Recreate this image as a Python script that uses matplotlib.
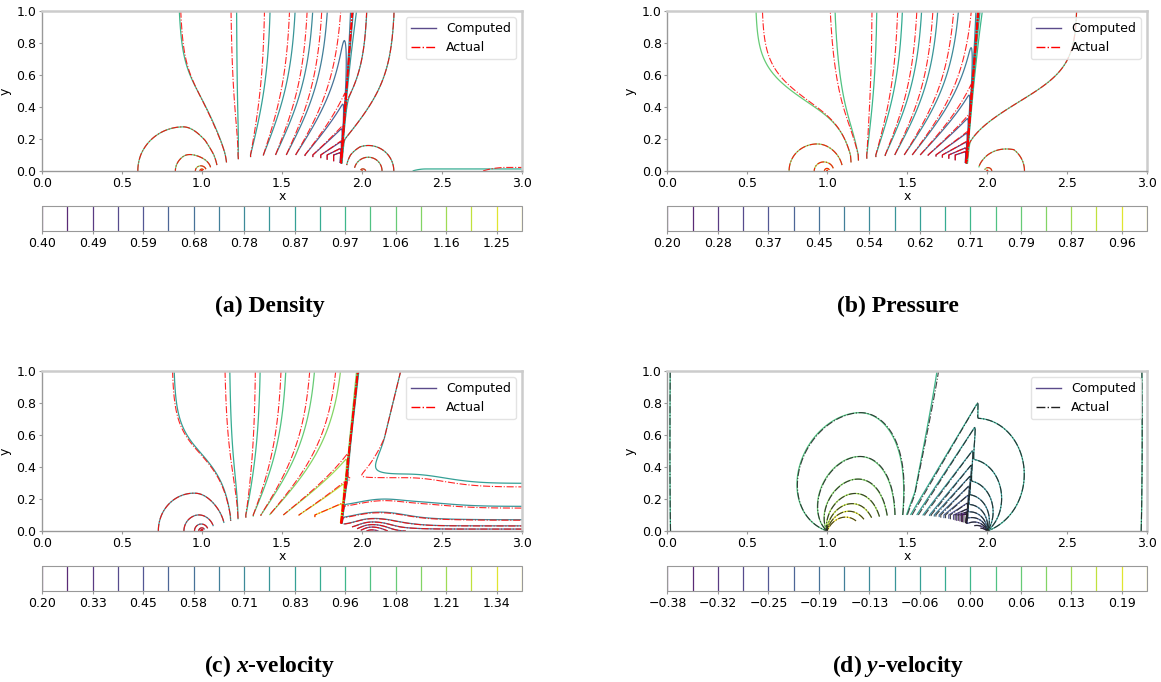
import numpy as np
import matplotlib
matplotlib.use("Agg")
import matplotlib.pyplot as plt
from matplotlib.lines import Line2D
from matplotlib.ticker import FuncFormatter

plt.rcParams['font.family'] = 'DejaVu Sans'
plt.rcParams['mathtext.fontset'] = 'custom'
plt.rcParams['mathtext.rm'] = 'Liberation Serif:bold'
plt.rcParams['mathtext.it'] = 'Liberation Serif:italic:bold'

# contour levels
density_levels = np.linspace(0.40, 1.30, 20)
pressure_levels = np.linspace(0.20, 1.00, 20)
xvel_levels = np.linspace(0.20, 1.40, 20)
yvel_levels = np.linspace(-0.379, 0.222, 20)

captions = ['(a) Density', '(b) Pressure', r'(c) $x$-velocity', r'(d) $y$-velocity']

# channel with circular-arc bump between x=1 and x=2
bump_start, bump_end, bump_height = 1.0, 2.0, 0.1
shock_foot = 1.865
shock_tilt = [0.075, 0.08, 0.11, 0.10]

# isoline positions: value, x at y=0.1, x at y=1, bend
rho_pre_vals = [0.985, 0.968, 0.921, 0.874, 0.826, 0.779, 0.732, 0.684, 0.637, 0.589, 0.542, 0.495, 0.447, 0.420]
rho_pre_xb = [0.30, 1.05, 1.19, 1.28, 1.37, 1.45, 1.52, 1.58, 1.64, 1.69, 1.74, 1.78, 1.82, 1.86]
rho_pre_xt = [0.20, 0.85, 1.21, 1.42, 1.58, 1.69, 1.78, 1.90, 2.05, 2.25, 2.50, 2.80, 3.20, 3.60]
rho_pre_bend = [0.2, 0.2] + [0.0] * 12
rho_post_vals = [0.85, 0.874, 0.921, 0.945]
rho_post_xb = [1.50, 1.70, 1.84, 1.95]
rho_post_xt = [1.95, 2.03, 2.20, 2.40]

p_pre_vals = [0.810, 0.789, 0.747, 0.705, 0.663, 0.621, 0.579, 0.537, 0.495, 0.453, 0.411, 0.368, 0.326, 0.284, 0.242, 0.215]
p_pre_xb = [0.30, 1.12, 1.18, 1.24, 1.30, 1.36, 1.42, 1.48, 1.53, 1.58, 1.63, 1.68, 1.72, 1.76, 1.80, 1.85]
p_pre_xt = [0.10, 0.56, 1.05, 1.31, 1.47, 1.59, 1.69, 1.82, 1.93, 2.05, 2.20, 2.40, 2.65, 2.95, 3.30, 3.70]
p_pre_bend = [0.38, 0.38] + [0.0] * 14
p_post_vals = [0.72, 0.747, 0.772]
p_post_xb = [1.70, 1.90, 2.15]
p_post_xt = [1.90, 2.55, 3.30]

u_pre_vals = [0.800, 0.832, 0.895, 0.958, 1.021, 1.084, 1.147, 1.211, 1.274, 1.337, 1.390]
u_pre_xb = [0.30, 1.14, 1.20, 1.26, 1.31, 1.36, 1.41, 1.50, 1.60, 1.70, 1.80]
u_pre_xt = [0.10, 0.82, 1.17, 1.36, 1.52, 1.70, 1.86, 2.15, 2.35, 2.90, 3.40]
u_pre_bend = [0.38, 0.38] + [0.0] * 9
u_post_top = 0.87

# y-velocity: straight isolines from the bump to the shock (x at y=0.1, where they meet the shock)
v_pre_vals = [0.0, -0.031, -0.063, -0.095, -0.126, -0.158, -0.189, -0.221, -0.252, -0.284, -0.316, -0.347, -0.390]
v_pre_xb = [1.47, 1.52, 1.56, 1.60, 1.64, 1.67, 1.70, 1.73, 1.76, 1.79, 1.81, 1.83, 1.85]
v_pre_yend = [1.00, 0.81, 0.66, 0.51, 0.42, 0.35, 0.29, 0.23, 0.18, 0.14, 0.12, 0.11, 0.105]

nx, ny = 901, 301
xs = np.linspace(0, 3, nx)
ys = np.linspace(0, 1, ny)
X, Y = np.meshgrid(xs, ys)

R = ((bump_end - bump_start) ** 2 / 4 + bump_height ** 2) / (2 * bump_height)
mid = 0.5 * (bump_start + bump_end)
h = np.sqrt(np.clip(R ** 2 - (X - mid) ** 2, 0, None)) - (R - bump_height)
solid = (X > bump_start) & (X < bump_end) & (Y < h)


def smooth(x, a, b):
    t = np.clip((x - a) / (b - a), 0, 1)
    return t * t * (3 - 2 * t)


def profile(y, c, s):
    t = np.clip((y - 0.1) / 0.9, 0, 1)
    L = lambda z: 1 / (1 + np.exp(-(z - c) / s))
    w = (L(t) - L(0)) / (L(1) - L(0))
    return np.where(c < 0, t, w)


def sweep(vals, xb, xt, bend, dx=0.0, dx_s=0.0):
    vals, xb = np.asarray(vals), np.asarray(xb)
    c = np.asarray(bend, dtype=float)
    xt = np.asarray(xt) + np.where(c > 0.01, dx_s, dx)
    s = np.where(c > 0.01, 0.12 + 0.4 * (0.38 - c), 0.3)
    out = np.empty((ny, nx))
    for j, yj in enumerate(ys):
        xq = xb + (xt - xb) * profile(yj, c, s)
        o = np.argsort(xq, kind='stable')
        out[j] = np.interp(xs, xq[o], vals[o])
    return out


def blob(amp, xc, sl, sr, sy):
    sx = np.where(X < xc, sl, sr)
    return amp * np.exp(-0.5 * ((X - xc) / sx) ** 2 - 0.5 * (Y / sy) ** 2)


def corner(amp, x0, r0):
    return 0.5 * amp * np.log1p(r0 ** 2 / ((X - x0) ** 2 + Y ** 2 + 1e-10))


def shock(i, w0, w1, shift=0.0):
    xsh = shock_foot + shock_tilt[i] * Y + shift
    w = w0 + (w1 - w0) * Y ** 3
    return 0.5 * (1 + np.tanh((X - xsh) / w))


def thin_bump_v(xx, yy, t=bump_height, K=4):
    v = np.zeros_like(xx)
    a, b, c = xx - bump_end, xx - bump_start, xx - mid
    for k in range(-K, K + 1):
        yk = yy - 2 * k
        yk = np.where(np.abs(yk) < 1e-9, 1e-9, yk)
        at = np.arctan(b / yk) - np.arctan(a / yk)
        lg = np.log((b ** 2 + yk ** 2) / (a ** 2 + yk ** 2))
        v += 0.5 * yk * lg - c * at
    return 8 * t / np.pi * v


def density(actual):
    pre = sweep(rho_pre_vals, rho_pre_xb, rho_pre_xt, rho_pre_bend,
                -0.035 if actual else 0.0, 0.01 if actual else 0.0)
    pre += blob(0.062, 0.88, 0.23, 0.12, 0.24) + corner(0.05, 1.0, 0.25)
    post = sweep(rho_post_vals, rho_post_xb, rho_post_xt, [0.2] * 4, 0.02 if actual else 0.0)
    post += blob(0.11, 2.04, 0.09, 0.09, 0.09) + corner(0.02, 2.0, 0.03)
    if actual:
        post -= 0.045 * np.exp(-Y / 0.035) * smooth(X, 2.6, 2.9)
    else:
        post -= 0.045 * np.exp(-Y / 0.02) * smooth(X, 2.22, 2.4)
    H = shock(0, 0.0025, 0.0025) if actual else shock(0, 0.004, 0.03)
    return pre * (1 - H) + post * H


def pressure(actual):
    pre = sweep(p_pre_vals, p_pre_xb, p_pre_xt, p_pre_bend,
                -0.03 if actual else 0.0, 0.04 if actual else 0.0)
    pre += blob(0.06, 0.94, 0.15, 0.12, 0.15) + corner(0.035, 1.0, 0.12)
    post = sweep(p_post_vals, p_post_xb, p_post_xt, [0.38] * 3, 0.07 if actual else 0.0)
    post += blob(0.05, 2.07, 0.11, 0.11, 0.11) + corner(0.03, 2.0, 0.06)
    H = shock(1, 0.0025, 0.0025) if actual else shock(1, 0.004, 0.02)
    return pre * (1 - H) + post * H


def xvelocity(actual):
    pre = sweep(u_pre_vals, u_pre_xb, u_pre_xt, u_pre_bend,
                -0.03 if actual else 0.0, -0.01 if actual else 0.0)
    pre += blob(-0.065, 0.96, 0.19, 0.12, 0.22) + corner(-0.08, 1.0, 0.2)
    # slower flow behind the upper part of the shock, wake layer near the wall
    width = 0.1 + 0.25 * Y
    post = u_post_top - 0.1 * np.exp(-((X - 1.9) / width) ** 2) * smooth(Y, 0.25, 0.6)
    depth = (0.49 if actual else 0.53) + 0.1 * np.exp(-((X - 2.3) / 0.3) ** 2)
    post -= 0.2 * np.clip(1 - Y / depth, 0, None) ** 2
    post -= 0.15 * np.exp(-Y / (0.03 + 0.05 * np.exp(-((X - 2.1) / 0.2) ** 2)))
    post += blob(-0.15, 2.06, 0.06, 0.08, 0.04)
    H = shock(2, 0.0025, 0.0025) if actual else shock(2, 0.004, 0.006)
    return pre * (1 - H) + post * H


def yvelocity(actual):
    gam = 0.21 if actual else 0.2
    stretch = 1.3
    front = thin_bump_v(X - gam * Y, Y / stretch)
    # straight lines from the bump surface to the shock, extended to y=1
    yend = np.asarray(v_pre_yend)
    xend = shock_foot + shock_tilt[3] * yend
    xb = np.asarray(v_pre_xb) + (0.01 if actual else 0.0)
    xt = xb + (xend - xb) * 0.9 / (yend - 0.1)
    fan = sweep(v_pre_vals, xb, xt, [-1] * len(xb))
    pre = np.maximum(front, 0) + fan
    post = thin_bump_v(X, Y / stretch)
    H = shock(3, 0.0025, 0.0025) if actual else shock(3, 0.003, 0.005)
    v = pre * (1 - H) + post * H
    v = (v + 0.004 * (1 - smooth(X, 1.2, 1.6))) * smooth(X, 0.0, 0.08)
    return v + 0.02 * smooth(X, 2.96, 3.0)


panels = [(density, density_levels, 'red'),
          (pressure, pressure_levels, 'red'),
          (xvelocity, xvel_levels, 'red'),
          (yvelocity, yvel_levels, '#222222')]

# axes boxes in figure fractions (left, bottom, width, height)
ax_boxes = [(0.0362, 0.7493, 0.4134, 0.2349), (0.5749, 0.7493, 0.4130, 0.2349),
            (0.0362, 0.2214, 0.4134, 0.2349), (0.5749, 0.2214, 0.4130, 0.2349)]
cb_boxes = [(0.0362, 0.6613, 0.4134, 0.0367), (0.5749, 0.6613, 0.4130, 0.0367),
            (0.0362, 0.1334, 0.4134, 0.0367), (0.5749, 0.1334, 0.4130, 0.0367)]
cap_pos = [(0.2325, 0.551), (0.7735, 0.551), (0.2325, 0.024), (0.7735, 0.024)]

fig = plt.figure(figsize=(11.61, 6.82), dpi=100)
minus = FuncFormatter(lambda v, p: f'{v:.2f}'.replace('-', '\u2212'))

for i, (func, levels, act_color) in enumerate(panels):
    comp = func(False)
    act = func(True)
    comp[solid] = np.nan
    act[solid] = np.nan

    ax = fig.add_axes(ax_boxes[i])
    cs = ax.contour(X, Y, comp, levels=levels, cmap='viridis', linewidths=0.9, alpha=0.9)
    ax.contour(X, Y, act, levels=levels, colors=act_color, linestyles='-.', linewidths=0.8, alpha=0.85)
    ax.set_xlim(0, 3)
    ax.set_ylim(0, 1)
    ax.set_xticks(np.arange(0, 3.01, 0.5))
    ax.set_yticks(np.arange(0, 1.01, 0.2))
    ax.set_xlabel('x', fontsize=9, labelpad=0)
    ax.set_ylabel('y', fontsize=9)
    ax.yaxis.set_label_coords(-0.0635, 0.5)
    ax.tick_params(labelsize=9, length=2, color='#999999', pad=2)
    for name, sp in ax.spines.items():
        if name in ('left', 'bottom'):
            sp.set_color('#999999')
            sp.set_linewidth(1.0)
        else:
            sp.set_color('#cccccc')
            sp.set_linewidth(1.8)

    handles = [Line2D([], [], color='#5b4b8a', lw=1),
               Line2D([], [], color=act_color, ls='-.', lw=1)]
    ax.legend(handles, ['Computed', 'Actual'], loc='upper right', fontsize=9,
              edgecolor='#dddddd')

    cax = fig.add_axes(cb_boxes[i])
    cb = fig.colorbar(cs, cax=cax, orientation='horizontal', ticks=levels[::2], format=minus)
    cb.ax.tick_params(labelsize=9, length=2, color='#999999', pad=2)
    cb.outline.set_edgecolor('#999999')
    cb.outline.set_linewidth(0.8)

    fig.text(cap_pos[i][0], cap_pos[i][1], captions[i], ha='center', va='center',
             fontsize=17, fontweight='bold', family='Liberation Serif')

fig.savefig('out.png', dpi=100)
